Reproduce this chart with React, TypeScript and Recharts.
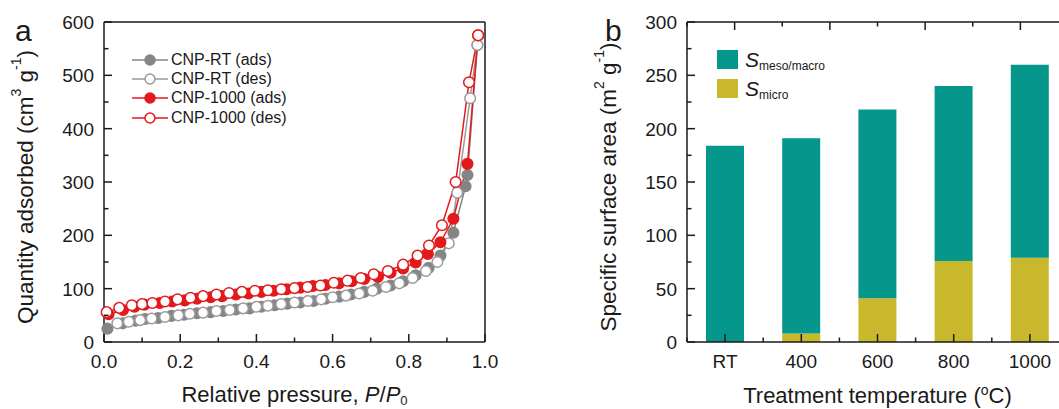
import { LineChart, Line, XAxis, YAxis, Legend, BarChart, Bar } from "recharts";

const FONT = '"Liberation Sans", Arial, Helvetica, sans-serif';
const INK = "#1a1a1a";
const GRAY = "#858585";
const GRAY_LIGHT = "#9a9a9a";
const RED = "#e3191c";
const TEAL = "#05978c";
const OLIVE = "#c9b82c";

// panel a: N2 isotherms, relative pressure vs quantity adsorbed
const rtAdsP = [0.009, 0.049, 0.083, 0.108, 0.142, 0.177, 0.21, 0.244, 0.28, 0.313, 0.346, 0.382, 0.413, 0.448, 0.481, 0.515, 0.55, 0.581, 0.617, 0.648, 0.683, 0.716, 0.752, 0.785, 0.818, 0.852, 0.883, 0.917, 0.949, 0.954, 0.98];
const rtAdsQ = [25, 35, 40, 43, 45, 49, 51, 54, 56, 58, 61, 63, 66, 69, 72, 74, 77, 81, 85, 89, 94, 100, 106, 114, 125, 139, 162, 205, 292, 313, 557];

const rtDesP = [0.035, 0.065, 0.095, 0.125, 0.16, 0.195, 0.225, 0.26, 0.295, 0.33, 0.365, 0.4, 0.43, 0.465, 0.5, 0.535, 0.57, 0.6, 0.635, 0.67, 0.705, 0.74, 0.775, 0.81, 0.845, 0.875, 0.905, 0.927, 0.961, 0.98];
const rtDesQ = [35, 38, 41, 44, 47, 50, 53, 55, 58, 60, 63, 66, 68, 71, 74, 77, 80, 84, 87, 91, 96, 103, 110, 120, 133, 150, 185, 280, 457, 557];

const k1000AdsP = [0.012, 0.05, 0.08, 0.106, 0.146, 0.179, 0.212, 0.244, 0.28, 0.31, 0.346, 0.379, 0.413, 0.445, 0.479, 0.515, 0.548, 0.581, 0.617, 0.65, 0.683, 0.719, 0.752, 0.785, 0.818, 0.85, 0.883, 0.917, 0.954, 0.982];
const k1000AdsQ = [52, 60, 66, 70, 73, 76, 78, 81, 84, 86, 89, 91, 94, 96, 99, 102, 105, 107, 110, 114, 118, 122, 130, 138, 149, 165, 187, 231, 334, 575];

const k1000DesP = [0.007, 0.04, 0.073, 0.1, 0.127, 0.16, 0.193, 0.227, 0.26, 0.295, 0.328, 0.362, 0.396, 0.43, 0.465, 0.5, 0.534, 0.568, 0.603, 0.639, 0.674, 0.708, 0.745, 0.785, 0.823, 0.853, 0.887, 0.923, 0.958, 0.982];
const k1000DesQ = [56, 64, 69, 71, 73, 76, 80, 83, 86, 89, 92, 94, 96, 97, 99, 101, 103, 106, 111, 115, 120, 127, 133, 145, 162, 181, 219, 300, 487, 575];

const pressureTicks = [0, 0.1, 0.2, 0.3, 0.4, 0.5, 0.6, 0.7, 0.8, 0.9, 1.0];
const quantityTicks = [0, 50, 100, 150, 200, 250, 300, 350, 400, 450, 500, 550, 600];

// panel b: surface area split by pore type
const temperatures = ["RT", "400", "600", "800", "1000"];
const sMicro = [0, 8, 41, 76, 79];
const sMesoMacro = [184, 183, 177, 164, 181];
const areaTicks = [0, 25, 50, 75, 100, 125, 150, 175, 200, 225, 250, 275, 300];
const topBandTicks = [0, 0.5, 1, 1.5, 2, 2.5, 3, 3.5, 4, 4.5, 5];

const zip = (ps: number[], qs: number[]) => ps.map((p, i) => ({ p, q: qs[i] }));

const isoSeries = [
  { name: "CNP-RT (ads)", color: GRAY, filled: true, data: zip(rtAdsP, rtAdsQ) },
  { name: "CNP-RT (des)", color: GRAY_LIGHT, filled: false, data: zip(rtDesP, rtDesQ) },
  { name: "CNP-1000 (ads)", color: RED, filled: true, data: zip(k1000AdsP, k1000AdsQ) },
  { name: "CNP-1000 (des)", color: RED, filled: false, data: zip(k1000DesP, k1000DesQ) },
];

const areaData = temperatures.map((t, i) => ({ t, micro: sMicro[i], meso: sMesoMacro[i] }));

type Side = "bottom" | "top" | "left" | "right";

function axisTick(side: Side, isMajor: (v: number) => boolean, fmt?: (v: number) => string) {
  return (props: any) => {
    const { x, y, payload } = props;
    const v = payload.value;
    const len = isMajor(v) ? 8 : 4.5;
    const d = { bottom: [0, -len], top: [0, len], left: [len, 0], right: [-len, 0] }[side];
    return (
      <g>
        <line x1={x} y1={y} x2={x + d[0]} y2={y + d[1]} stroke={INK} strokeWidth={1.5} />
        {fmt && isMajor(v) && side === "bottom" && (
          <text x={x} y={y + 26} textAnchor="middle" fontFamily={FONT} fontSize={19} fill={INK}>
            {fmt(v)}
          </text>
        )}
        {fmt && isMajor(v) && side === "left" && (
          <text x={x - 10} y={y + 7} textAnchor="end" fontFamily={FONT} fontSize={19} fill={INK}>
            {fmt(v)}
          </text>
        )}
      </g>
    );
  };
}

// category axis: major tick at the centre, minor tick on the band edge
function categoryTick(props: any) {
  const { x, y, payload, width } = props;
  const half = width / (temperatures.length * 2);
  return (
    <g>
      <line x1={x} y1={y} x2={x} y2={y - 8} stroke={INK} strokeWidth={1.5} />
      <line x1={x - half} y1={y} x2={x - half} y2={y - 4.5} stroke={INK} strokeWidth={1.5} />
      <text x={x} y={y + 26} textAnchor="middle" fontFamily={FONT} fontSize={19} fill={INK}>
        {payload.value}
      </text>
    </g>
  );
}

const axisLine = { stroke: INK, strokeWidth: 1.5 };
const titleFont = { fontFamily: FONT, fontSize: 22, fill: INK };

function IsoLegend() {
  return (
    <div style={{ fontFamily: FONT, fontSize: 16, color: INK }}>
      {isoSeries.map((s) => (
        <div key={s.name} style={{ display: "flex", alignItems: "center", height: 19.3 }}>
          <svg width={38} height={14}>
            <line x1={1} y1={7} x2={37} y2={7} stroke={s.color} strokeWidth={1.5} />
            <circle cx={19} cy={7} r={5} fill={s.filled ? s.color : "#fff"} stroke={s.color} strokeWidth={1.5} />
          </svg>
          <span style={{ marginLeft: 2 }}>{s.name}</span>
        </div>
      ))}
    </div>
  );
}

function AreaLegend() {
  const rows = [
    { color: TEAL, sub: "meso/macro" },
    { color: OLIVE, sub: "micro" },
  ];
  return (
    <div style={{ fontFamily: FONT, color: INK }}>
      {rows.map((r) => (
        <div key={r.sub} style={{ display: "flex", alignItems: "center", height: 29 }}>
          <div style={{ width: 21, height: 19, background: r.color }} />
          <span style={{ marginLeft: 7, fontSize: 21, fontStyle: "italic" }}>S</span>
          <span style={{ fontSize: 12, position: "relative", top: 6 }}>{r.sub}</span>
        </div>
      ))}
    </div>
  );
}

function IsothermPanel() {
  return (
    <LineChart width={530} height={409} margin={{ top: 21, right: 44, bottom: 37, left: 0 }}>
      <XAxis
        dataKey="p"
        type="number"
        domain={[0, 1]}
        ticks={pressureTicks}
        interval={0}
        tickSize={0}
        tickMargin={0}
        height={30}
        axisLine={axisLine}
        tick={axisTick("bottom", (v) => Math.round(v * 10) % 2 === 0, (v) => v.toFixed(1))}
        label={{
          content: ({ viewBox }: any) => (
            <text x={viewBox.x + viewBox.width / 2} y={viewBox.y + 60} textAnchor="middle" {...titleFont}>
              Relative pressure, <tspan fontStyle="italic">P</tspan>/<tspan fontStyle="italic">P</tspan>
              <tspan dy={3} fontSize={13}>0</tspan>
            </text>
          ),
        }}
      />
      <XAxis
        xAxisId="top"
        orientation="top"
        type="number"
        domain={[0, 1]}
        ticks={pressureTicks}
        interval={0}
        tickSize={0}
        tickMargin={0}
        height={1}
        axisLine={axisLine}
        tick={axisTick("top", (v) => Math.round(v * 10) % 2 === 0)}
      />
      <YAxis
        type="number"
        domain={[0, 600]}
        ticks={quantityTicks}
        interval={0}
        tickSize={0}
        tickMargin={0}
        width={104}
        axisLine={axisLine}
        tick={axisTick("left", (v) => v % 100 === 0, (v) => String(v))}
        label={{
          content: ({ viewBox }: any) => {
            const cx = 25;
            const cy = viewBox.y + viewBox.height / 2 + 5;
            return (
              <text x={cx} y={cy} transform={`rotate(-90, ${cx}, ${cy})`} textAnchor="middle" dominantBaseline="central" {...titleFont} fontSize={22.5}>
                Quantity adsorbed (cm<tspan dy={-9} fontSize={14}>3</tspan>
                <tspan dy={9}> g</tspan>
                <tspan dy={-9} fontSize={14}>-1</tspan>
                <tspan dy={9}>)</tspan>
              </text>
            );
          },
        }}
      />
      <YAxis
        yAxisId="right"
        orientation="right"
        type="number"
        domain={[0, 600]}
        ticks={quantityTicks}
        interval={0}
        tickSize={0}
        tickMargin={0}
        width={1}
        axisLine={axisLine}
        tick={axisTick("right", (v) => v % 100 === 0)}
      />
      <Legend
        layout="vertical"
        align="center"
        verticalAlign="middle"
        wrapperStyle={{ left: 131, top: 50, width: 200 }}
        content={() => <IsoLegend />}
      />
      {isoSeries.map((s) => (
        <Line
          key={s.name}
          data={s.data}
          dataKey="q"
          name={s.name}
          type="linear"
          stroke={s.color}
          strokeWidth={1.5}
          dot={{ r: 5.3, fill: s.filled ? s.color : "#fff", stroke: s.color, strokeWidth: 1.5 }}
          isAnimationActive={false}
        />
      ))}
      <text x={15} y={41} fontFamily={FONT} fontSize={30} fill={INK}>a</text>
    </LineChart>
  );
}

function AreaPanel() {
  return (
    <BarChart width={560} height={409} data={areaData} margin={{ top: 21, right: 21, bottom: 37, left: 0 }}>
      <XAxis
        dataKey="t"
        interval={0}
        tickSize={0}
        tickMargin={0}
        height={30}
        axisLine={axisLine}
        tick={categoryTick}
        label={{
          content: ({ viewBox }: any) => (
            <text x={viewBox.x + viewBox.width / 2} y={viewBox.y + 61} textAnchor="middle" {...titleFont}>
              Treatment temperature (<tspan dy={-8} fontSize={14}>o</tspan>
              <tspan dy={8}>C)</tspan>
            </text>
          ),
        }}
      />
      <XAxis
        xAxisId="top"
        orientation="top"
        type="number"
        domain={[0, 5]}
        ticks={topBandTicks}
        interval={0}
        tickSize={0}
        tickMargin={0}
        height={1}
        axisLine={axisLine}
        tick={axisTick("top", (v) => v % 1 !== 0)}
      />
      <YAxis
        type="number"
        domain={[0, 300]}
        ticks={areaTicks}
        interval={0}
        tickSize={0}
        tickMargin={0}
        width={157}
        axisLine={axisLine}
        tick={axisTick("left", (v) => v % 50 === 0, (v) => String(v))}
        label={{
          content: ({ viewBox }: any) => {
            const cx = viewBox.x + 78;
            const cy = viewBox.y + viewBox.height / 2 + 5;
            return (
              <text x={cx} y={cy} transform={`rotate(-90, ${cx}, ${cy})`} textAnchor="middle" dominantBaseline="central" {...titleFont} fontSize={22.5}>
                Specific surface area (m<tspan dy={-9} fontSize={14}>2</tspan>
                <tspan dy={9}> g</tspan>
                <tspan dy={-9} fontSize={14}>-1</tspan>
                <tspan dy={9}>)</tspan>
              </text>
            );
          },
        }}
      />
      <YAxis
        yAxisId="right"
        orientation="right"
        type="number"
        domain={[0, 300]}
        ticks={areaTicks}
        interval={0}
        tickSize={0}
        tickMargin={0}
        width={1}
        axisLine={axisLine}
        tick={axisTick("right", (v) => v % 50 === 0)}
      />
      <Legend
        layout="vertical"
        align="center"
        verticalAlign="middle"
        wrapperStyle={{ left: 187, top: 45, width: 200 }}
        content={() => <AreaLegend />}
      />
      <Bar dataKey="micro" stackId="s" fill={OLIVE} barSize={38} isAnimationActive={false} />
      <Bar dataKey="meso" stackId="s" fill={TEAL} barSize={38} isAnimationActive={false} />
      <text x={75} y={41} fontFamily={FONT} fontSize={30} fill={INK}>b</text>
    </BarChart>
  );
}

export default function App() {
  return (
    <div style={{ position: "absolute", left: 0, top: 0, width: 1059, height: 409, overflow: "hidden", background: "#fff" }}>
      <div style={{ position: "absolute", left: 0, top: 0 }}>
        <IsothermPanel />
      </div>
      <div style={{ position: "absolute", left: 530, top: 0 }}>
        <AreaPanel />
      </div>
    </div>
  );
}
